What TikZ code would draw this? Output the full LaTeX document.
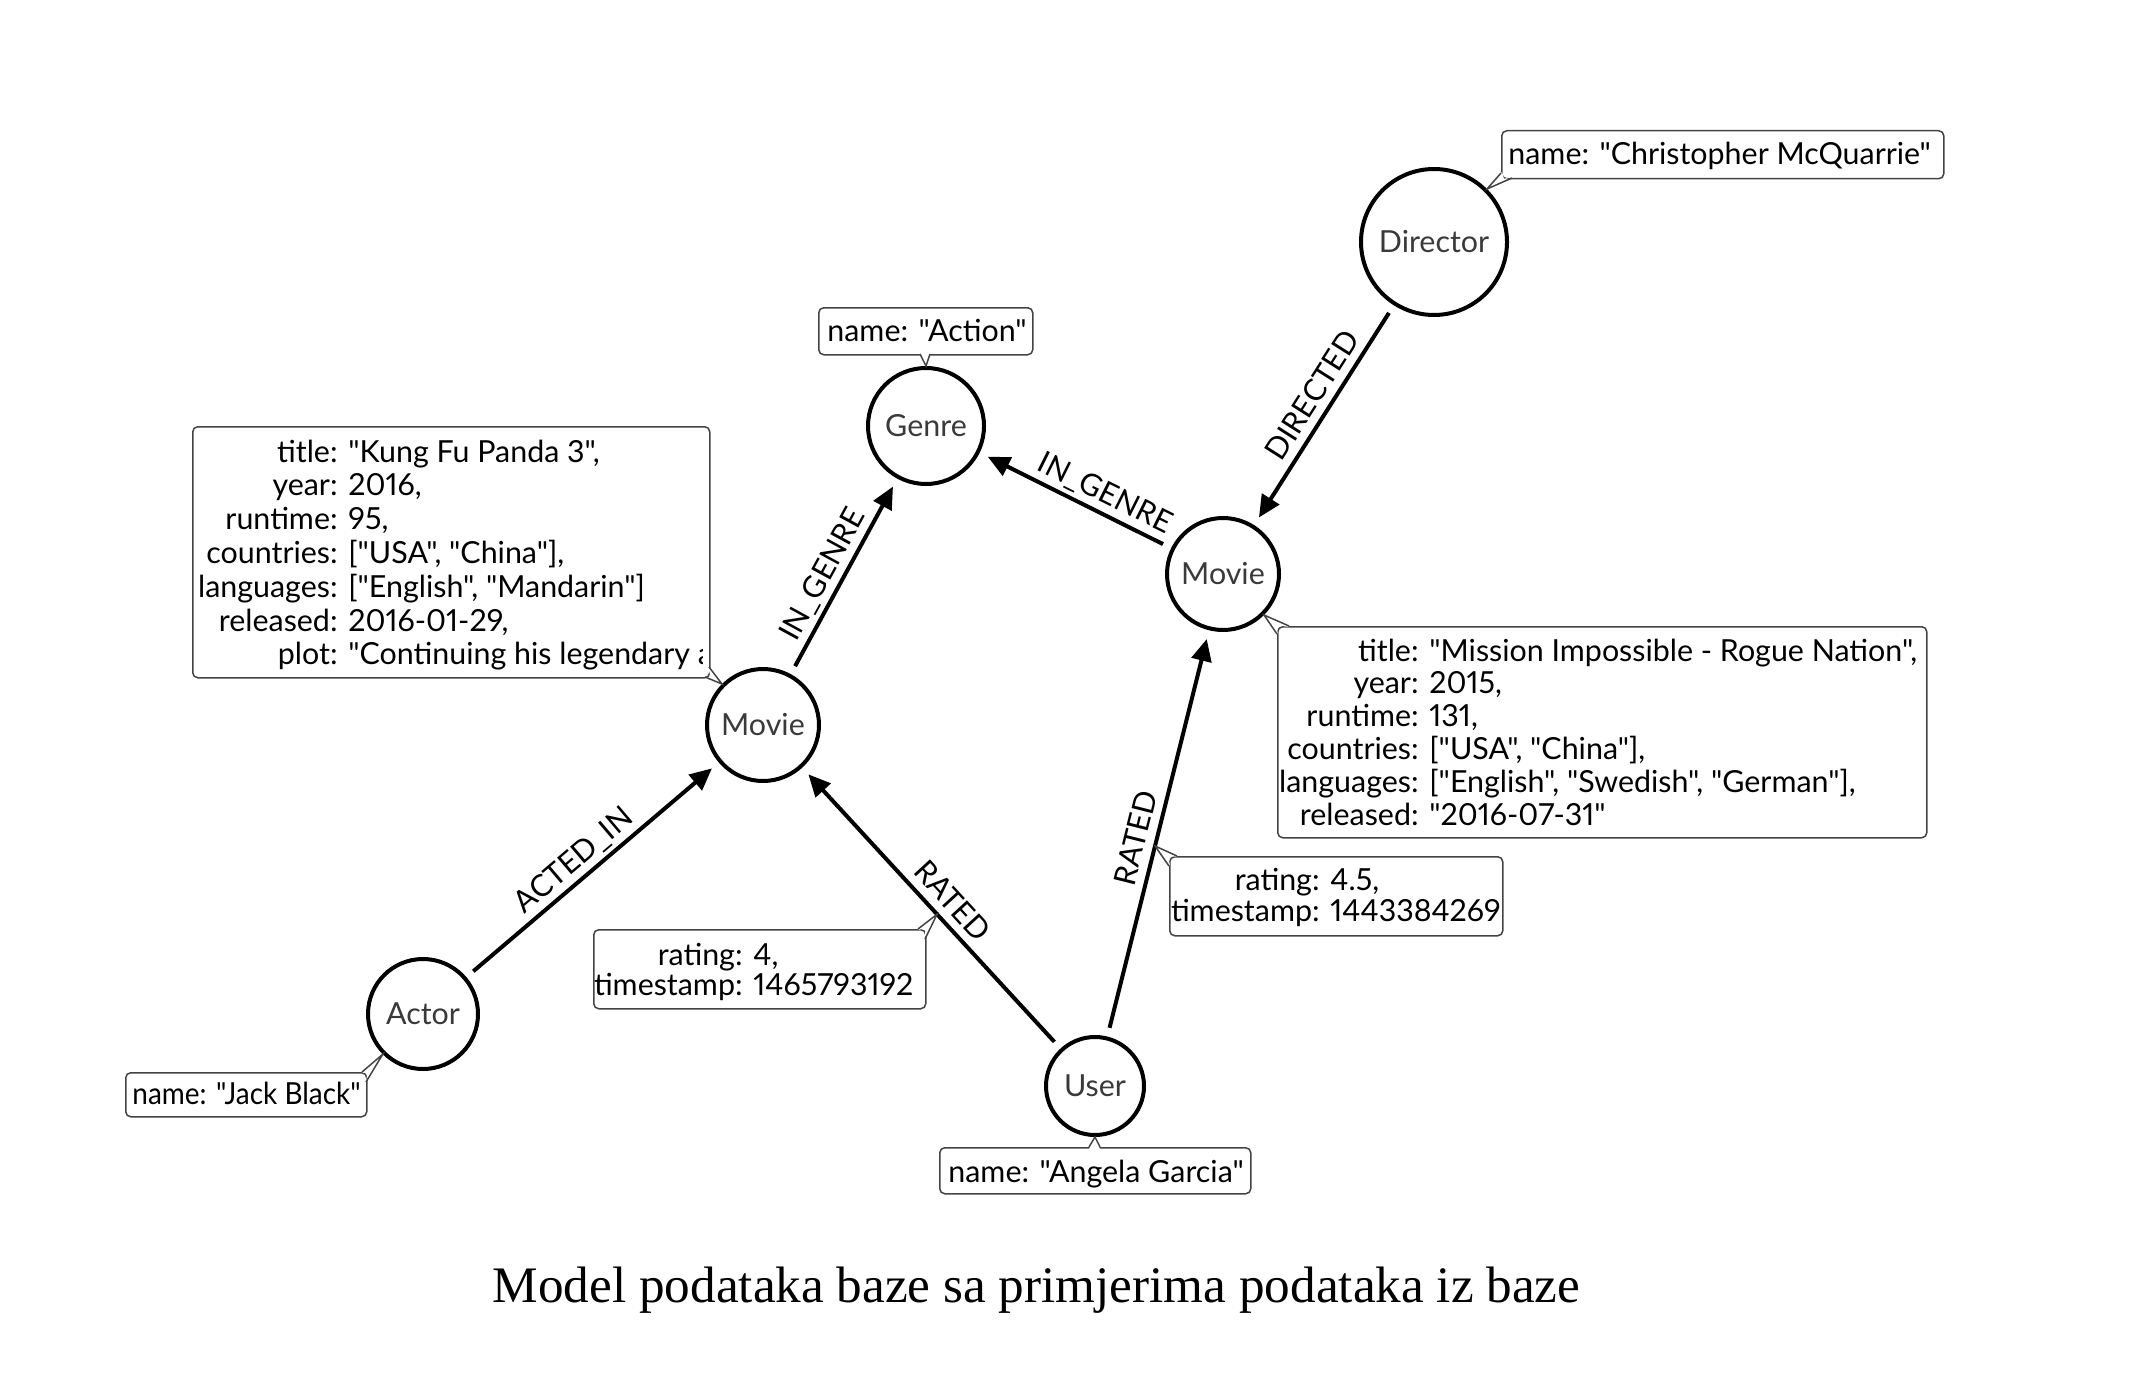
\documentclass[tikz,border=0pt]{standalone}
\usepackage{fontspec}
\newfontfamily\gill{Lato}[Numbers=Proportional]
\newfontfamily\capserif{Liberation Serif}
\usetikzlibrary{arrows.meta,calc}
\definecolor{boxline}{HTML}{444444}
\definecolor{nodetext}{HTML}{3A3A3A}
\newcommand{\gfont}{\gill\fontsize{15.2}{17}\selectfont}
\tikzset{
  ent/.style={circle, draw=black, line width=2pt, fill=white, font=\gfont, text=nodetext, inner sep=0pt},
  rel/.style={line width=2pt, -{Triangle[length=11pt,width=10pt]}, shorten <=4.5pt, shorten >=4.5pt},
  rlab/.style={sloped, anchor=south, text depth=0pt, inner xsep=0pt, inner ysep=4pt, font=\gfont},
  propbox/.style={draw=boxline, line width=0.75pt, rounded corners=2.5pt, fill=white, inner sep=0pt, anchor=north west},
  ptxt/.style={font=\gfont, inner sep=0pt, text=black, text height=11pt, text depth=3pt},
  pline/.style={draw=boxline, line width=0.75pt},
}
\begin{document}
\begin{tikzpicture}[x=0.5pt, y=-0.5pt]
\fill[white] (0,0) rectangle (2146,1380);
\useasboundingbox (0,0) rectangle (2146,1380);

% entities
\node[ent, minimum size=58pt] (genre) at (926,426) {Genre};
\node[ent, minimum size=56pt] (movie1) at (763,725) {Movie};
\node[ent, minimum size=56pt] (movie2) at (1223,574) {Movie};
\node[ent, minimum size=73pt] (director) at (1434,242) {Director};
\node[ent, minimum size=55pt] (actor) at (423,1014) {Actor};
\node[ent, minimum size=49pt] (user) at (1095,1086) {User};

% relationships
\draw[rel] (movie1) -- (genre) node[rlab, pos=0.463] {IN\_GENRE};
\draw[rel] (movie2) -- (genre) node[rlab, pos=0.391] {IN\_GENRE};
\draw[rel] (director) -- (movie2) node[rlab, pos=0.46] {DIRECTED};
\draw[rel] (actor) -- (movie1) node[rlab, pos=0.475] {ACTED\_IN};
\draw[rel] (user) -- (movie1) node[rlab, pos=0.476] {RATED} coordinate[pos=0.478] (r1tip);
\draw[rel] (user) -- (movie2) node[rlab, pos=0.476] {RATED} coordinate[pos=0.469] (r2tip);

% ---- Action box
\node[propbox, minimum width=107pt, minimum height=23.5pt] (actbox) at (818,307) {};
\fill[white] (920,352) -- (genre.north) -- (930,352) -- cycle;
\draw[pline] (920,354) -- (genre.north) -- (930,354);
\node[ptxt, anchor=base west] (acttxt) at (827,341.5) {name: "Action"};

% ---- Christopher box
\node[propbox, minimum width=221pt, minimum height=24pt] (dirbox) at (1501,130) {};
\fill[white] (1502,172) -- (director.north east) -- (1512,176) -- (1504,179) -- cycle;
\draw[pline] (1501,173) -- (director.north east) -- (1512,178);
\node[ptxt, anchor=base west] (dirtxt) at (1508,165) {name: "Christopher McQuarrie"};

% ---- Kung Fu box
\node[propbox, minimum width=258.5pt, minimum height=125.5pt] (kfbox) at (192,426) {};
\begin{scope}
\clip (194,428) rectangle (702,675);
\foreach \l/\v [count=\i from 0] in {title:/{"Kung Fu Panda 3",}, year:/{2016,}, runtime:/{95,}, countries:/{["USA", "China"],}, languages:/{["English", "Mandarin"]}, released:/{2016-01-29,}, plot:/{"Continuing his legendary adventures}}{
  \node[ptxt, anchor=base east] (kfl\i) at (338,462+33.8*\i) {\l};
  \node[ptxt, anchor=base west] (kfv\i) at (348,462+33.8*\i) {\v};
}
\end{scope}
\fill[white] (704,676) -- (movie1.north west) -- (708,666) -- (711,679) -- cycle;
\draw[pline] (705,677) -- (movie1.north west) -- (709,667);

% ---- Mission box
\node[propbox, minimum width=324.5pt, minimum height=105.5pt] (mibox) at (1277,626) {};
\fill[white] (1278,634) -- (movie2.south east) -- (1289,627) -- (1276,625) -- cycle;
\draw[pline] (1277,634) -- (movie2.south east) -- (1289,626);
\foreach \l/\v [count=\i from 0] in {title:/{"Mission Impossible - Rogue Nation",}, year:/{2015,}, runtime:/{131,}, countries:/{["USA", "China"],}, languages:/{["English", "Swedish", "German"],}, released:/{"2016-07-31"}}{
  \node[ptxt, anchor=base east] (mil\i) at (1419,661+32.8*\i) {\l};
  \node[ptxt, anchor=base west] (miv\i) at (1429,661+32.8*\i) {\v};
}

% ---- Jack Black box
\node[propbox, minimum width=120.5pt, minimum height=22pt] (actorbox) at (125,1072) {};
\fill[white] (362,1073) -- (actor.south west) -- (366,1081) -- (368,1071) -- cycle;
\draw[pline] (362,1072) -- (actor.south west) -- (366,1082);
\node[ptxt, anchor=base west] (actortxt) at (132,1104) {\scalebox{0.92}[1]{name: "Jack Black"}};

% ---- rating 4 box
\node[propbox, minimum width=166pt, minimum height=39.5pt] (r1box) at (593,929) {};
\fill[white] (918,930) -- (r1tip) -- (924,939) -- (926,928) -- cycle;
\draw[pline] (918,929) -- (r1tip) -- (925,939);
\node[ptxt, anchor=base east] (r1l0) at (743,965) {rating:};
\node[ptxt, anchor=base west] (r1v0) at (753,965) {4,};
\node[ptxt, anchor=base east] (r1l1) at (743,995) {timestamp:};
\node[ptxt, anchor=base west] (r1v1) at (753,995) {1465793192};

% ---- rating 4.5 box
\node[propbox, minimum width=166.5pt, minimum height=39.5pt] (r2box) at (1169,856) {};
\fill[white] (1177,857) -- (r2tip) -- (1170,866) -- (1168,855) -- cycle;
\draw[pline] (1177,856) -- (r2tip) -- (1169,866);
\node[ptxt, anchor=base east] (r2l0) at (1320,890) {rating:};
\node[ptxt, anchor=base west] (r2v0) at (1330,890) {4.5,};
\node[ptxt, anchor=base east] (r2l1) at (1320,921) {timestamp:};
\node[ptxt, anchor=base west] (r2v1) at (1330,921) {1443384269};

% ---- Angela box
\node[propbox, minimum width=155.5pt, minimum height=23pt] (userbox) at (939,1147) {};
\fill[white] (1089,1149) -- (user.south) -- (1100,1149) -- cycle;
\draw[pline] (1089,1147) -- (user.south) -- (1100,1147);
\node[ptxt, anchor=base west] (usertxt) at (948,1182) {name: "Angela Garcia"};

% caption
\node[font=\capserif\fontsize{25.6}{30}\selectfont, anchor=base, inner sep=0pt] (caption) at (1036.5,1302) {Model podataka baze sa primjerima podataka iz baze};
\end{tikzpicture}
\end{document}
